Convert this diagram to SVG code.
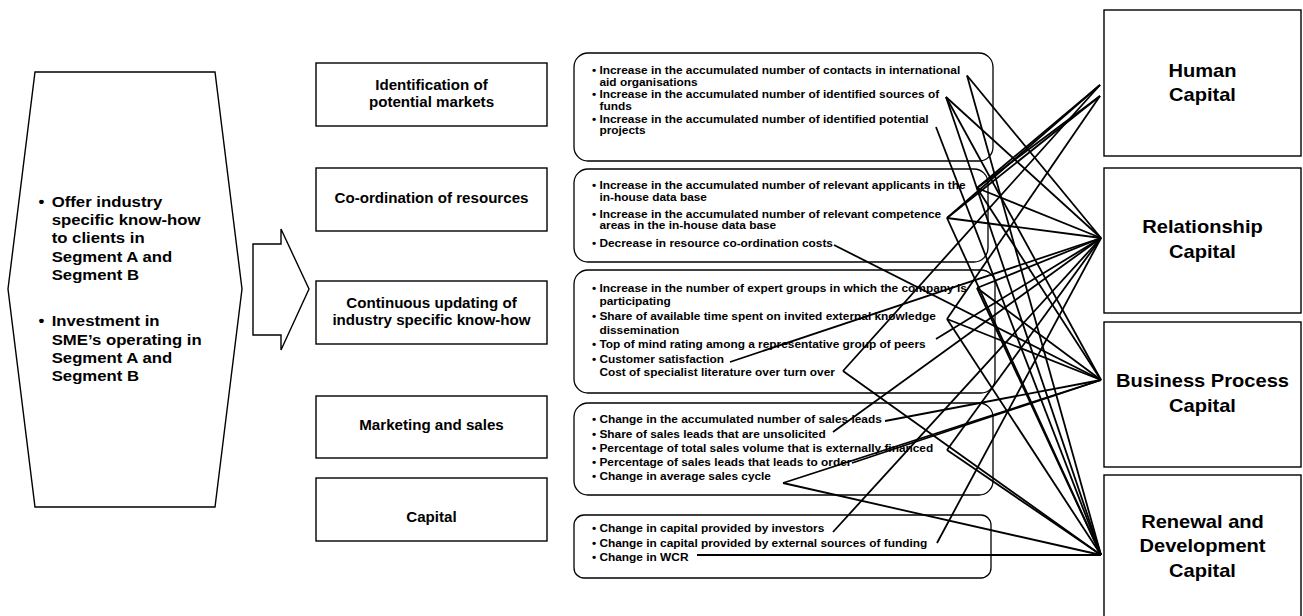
<svg xmlns="http://www.w3.org/2000/svg" width="1303" height="616" viewBox="0 0 1303 616">
<style>
text{font-family:"Liberation Sans",Arial,sans-serif;font-weight:bold;fill:#000}
.box{fill:#fff;stroke:#000;stroke-width:1.4}
.rbox{fill:none;stroke:#000;stroke-width:1.3}
.s{font-size:11px}
.m{font-size:14px;text-anchor:middle}
.r{font-size:18.6px;text-anchor:middle}
.l{font-size:15.5px}
.c line{stroke:#000;stroke-width:1.8}
</style>
<rect width="1303" height="616" fill="#fff"/>
<g id="strategy">
<polygon class="box" stroke-width="1" points="35,72 215,72 242,289 215,507 35,507 8,289"/>
<g transform="matrix(1.08 0 0 1 -3.08 0)" class="l">
<text x="38.5" y="206.7">•</text>
<text x="50.7" y="206.7">Offer industry</text>
<text x="50.7" y="225">specific know-how</text>
<text x="50.7" y="243.3">to clients in</text>
<text x="50.7" y="261.6">Segment A and</text>
<text x="50.7" y="280">Segment B</text>
<text x="38.5" y="326.5">•</text>
<text x="50.7" y="326.5">Investment in</text>
<text x="50.7" y="344.8">SME’s operating in</text>
<text x="50.7" y="363.2">Segment A and</text>
<text x="50.7" y="381.5">Segment B</text>
</g>
</g>
<g id="arrow">
<polygon class="box" stroke-width="1" points="253,244 281,244 281,229 309,289 281,350 281,335 253,335"/>
</g>
<g id="p1">
<rect class="box" x="316" y="63" width="231" height="63"/>
<g transform="matrix(1.08 0 0 1 -34.52 0)" class="m"><text x="431.5" y="90">Identification of</text><text x="431.5" y="107">potential markets</text></g>
</g>
<g id="p2">
<rect class="box" x="316" y="168" width="231" height="63"/>
<g transform="matrix(1.08 0 0 1 -34.52 0)" class="m"><text x="431.5" y="203">Co-ordination of resources</text></g>
</g>
<g id="p3">
<rect class="box" x="316" y="281" width="231" height="63"/>
<g transform="matrix(1.08 0 0 1 -34.52 0)" class="m"><text x="431.5" y="308">Continuous updating of</text><text x="431.5" y="325">industry specific know-how</text></g>
</g>
<g id="p4">
<rect class="box" x="316" y="396" width="231" height="62"/>
<g transform="matrix(1.08 0 0 1 -34.52 0)" class="m"><text x="431.5" y="430">Marketing and sales</text></g>
</g>
<g id="p5">
<rect class="box" x="316" y="478" width="231" height="63"/>
<g transform="matrix(1.08 0 0 1 -34.52 0)" class="m"><text x="431.5" y="522">Capital</text></g>
</g>
<g id="i1">
<rect class="rbox" x="574" y="53" width="419" height="108" rx="14"/>
<g transform="matrix(1.08 0 0 1 -47.36 0)" class="s">
<text x="592" y="74.5">• Increase in the accumulated number of contacts in international</text>
<text x="598.9" y="86">aid organisations</text>
<text x="592" y="98.5">• Increase in the accumulated number of identified sources of</text>
<text x="598.9" y="110">funds</text>
<text x="592" y="123">• Increase in the accumulated number of identified potential</text>
<text x="598.9" y="134.5">projects</text>
</g>
</g>
<g id="i2">
<rect class="rbox" x="574" y="169" width="414" height="93" rx="14"/>
<g transform="matrix(1.08 0 0 1 -47.36 0)" class="s">
<text x="592" y="189.5">• Increase in the accumulated number of relevant applicants in the</text>
<text x="598.9" y="201">in-house data base</text>
<text x="592" y="218">• Increase in the accumulated number of relevant competence</text>
<text x="598.9" y="229.5">areas in the in-house data base</text>
<text x="592" y="247">• Decrease in resource co-ordination costs</text>
</g>
</g>
<g id="i3">
<rect class="rbox" x="574" y="270" width="421" height="123" rx="14"/>
<g transform="matrix(1.08 0 0 1 -47.36 0)" class="s">
<text x="592" y="292">• Increase in the number of expert groups in which the company is</text>
<text x="598.9" y="305.5">participating</text>
<text x="592" y="320">• Share of available time spent on invited external knowledge</text>
<text x="598.9" y="334">dissemination</text>
<text x="592" y="348">• Top of mind rating among a representative group of peers</text>
<text x="592" y="363">• Customer satisfaction</text>
<text x="598.9" y="376.5">Cost of specialist literature over turn over</text>
</g>
</g>
<g id="i4">
<rect class="rbox" x="574" y="403" width="419" height="92" rx="14"/>
<g transform="matrix(1.08 0 0 1 -47.36 0)" class="s">
<text x="592" y="423">• Change in the accumulated number of sales leads</text>
<text x="592" y="438">• Share of sales leads that are unsolicited</text>
<text x="592" y="452.5">• Percentage of total sales volume that is externally financed</text>
<text x="592" y="466.5">• Percentage of sales leads that leads to order</text>
<text x="592" y="480.5">• Change in average sales cycle</text>
</g>
</g>
<g id="i5">
<rect class="rbox" x="574" y="515" width="417" height="63" rx="10"/>
<g transform="matrix(1.08 0 0 1 -47.36 0)" class="s">
<text x="592" y="532">• Change in capital provided by investors</text>
<text x="592" y="547">• Change in capital provided by external sources of funding</text>
<text x="592" y="561">• Change in WCR</text>
</g>
</g>
<g id="human">
<rect class="box" x="1104" y="10" width="197" height="146"/>
<g transform="matrix(1.08 0 0 1 -96.2 0)" class="r"><text x="1202.5" y="77">Human</text><text x="1202.5" y="101">Capital</text></g>
</g>
<g id="relationship">
<rect class="box" x="1104" y="168" width="197" height="145"/>
<g transform="matrix(1.08 0 0 1 -96.2 0)" class="r"><text x="1202.5" y="233">Relationship</text><text x="1202.5" y="258">Capital</text></g>
</g>
<g id="business">
<rect class="box" x="1104" y="322" width="197" height="145"/>
<g transform="matrix(1.08 0 0 1 -96.2 0)" class="r"><text x="1202.5" y="387.5">Business Process</text><text x="1202.5" y="412">Capital</text></g>
</g>
<g id="renewal">
<rect class="box" x="1104" y="475" width="197" height="160"/>
<g transform="matrix(1.08 0 0 1 -96.2 0)" class="r"><text x="1202.5" y="528">Renewal and</text><text x="1202.5" y="552.5">Development</text><text x="1202.5" y="577">Capital</text></g>
</g>
<g id="connectors" class="c">
<line x1="967" y1="75.5" x2="1101" y2="238"/>
<line x1="967" y1="75.5" x2="1101" y2="555"/>
<line x1="946" y1="97" x2="1101" y2="238"/>
<line x1="946" y1="97" x2="1101" y2="380"/>
<line x1="946" y1="97" x2="1101" y2="555"/>
<line x1="936" y1="127" x2="1101" y2="555"/>
<line x1="977" y1="188" x2="1100" y2="85"/>
<line x1="977" y1="188" x2="1100" y2="96"/>
<line x1="977" y1="188" x2="1101" y2="238"/>
<line x1="977" y1="188" x2="1101" y2="380"/>
<line x1="947" y1="218" x2="1100" y2="85"/>
<line x1="947" y1="218" x2="1100" y2="96"/>
<line x1="947" y1="218" x2="1101" y2="238"/>
<line x1="947" y1="218" x2="1101" y2="555"/>
<line x1="834" y1="245" x2="1101" y2="380"/>
<line x1="977" y1="288" x2="1101" y2="238"/>
<line x1="977" y1="288" x2="1101" y2="380"/>
<line x1="977" y1="288" x2="1101" y2="555"/>
<line x1="947" y1="319" x2="1100" y2="96"/>
<line x1="947" y1="319" x2="1101" y2="380"/>
<line x1="947" y1="319" x2="1101" y2="555"/>
<line x1="936" y1="339" x2="1101" y2="238"/>
<line x1="730" y1="362" x2="1101" y2="238"/>
<line x1="843" y1="371" x2="1100" y2="85"/>
<line x1="843" y1="371" x2="1101" y2="555"/>
<line x1="885" y1="421" x2="1101" y2="380"/>
<line x1="833" y1="432" x2="1101" y2="238"/>
<line x1="947" y1="450" x2="1101" y2="238"/>
<line x1="947" y1="450" x2="1101" y2="555"/>
<line x1="852" y1="463" x2="1101" y2="380"/>
<line x1="783" y1="483" x2="1101" y2="380"/>
<line x1="783" y1="483" x2="1101" y2="555"/>
<line x1="833" y1="532" x2="1101" y2="238"/>
<line x1="937" y1="543" x2="1101" y2="238"/>
<line x1="697" y1="555" x2="1101" y2="555"/>
</g>
</svg>
